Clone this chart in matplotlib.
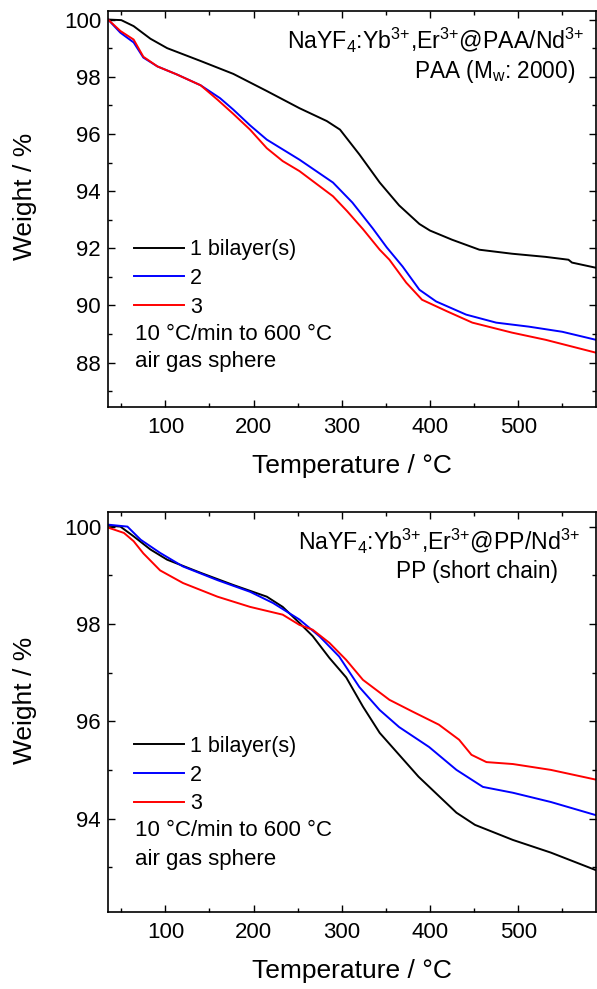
import matplotlib
matplotlib.use("Agg")
import matplotlib.pyplot as plt
from matplotlib.ticker import MultipleLocator

plt.rcParams["font.family"] = ["Liberation Sans", "DejaVu Sans"]
plt.rcParams["mathtext.fontset"] = "custom"
plt.rcParams["mathtext.rm"] = "Liberation Sans"
plt.rcParams["mathtext.it"] = "Liberation Sans"
plt.rcParams["mathtext.default"] = "regular"

# top panel: PAA
PAA_T1 = [35, 50, 64, 83, 102, 140, 177, 215, 252, 283, 298, 320, 343, 365, 388, 400, 425, 456, 493, 531, 557, 561, 588]
PAA_W1 = [100.0, 99.98, 99.77, 99.33, 99.0, 98.55, 98.1, 97.5, 96.9, 96.45, 96.15, 95.28, 94.3, 93.5, 92.85, 92.62, 92.3, 91.95, 91.81, 91.7, 91.6, 91.5, 91.32]
PAA_T2 = [35, 49, 64, 75, 91, 113, 140, 162, 177, 196, 215, 252, 290, 312, 335, 351, 369, 388, 407, 441, 475, 512, 550, 588]
PAA_W2 = [100.0, 99.54, 99.2, 98.67, 98.36, 98.08, 97.7, 97.25, 96.85, 96.3, 95.8, 95.1, 94.3, 93.6, 92.7, 92.03, 91.36, 90.55, 90.14, 89.68, 89.4, 89.26, 89.08, 88.8]
PAA_T3 = [35, 49, 64, 75, 91, 113, 140, 159, 177, 196, 215, 233, 252, 290, 306, 324, 343, 354, 373, 391, 419, 448, 493, 531, 588]
PAA_W3 = [100.0, 99.6, 99.3, 98.7, 98.36, 98.08, 97.7, 97.2, 96.7, 96.15, 95.5, 95.05, 94.7, 93.82, 93.3, 92.67, 91.95, 91.6, 90.8, 90.2, 89.8, 89.4, 89.05, 88.8, 88.35]

# bottom panel: PP
PP_T1 = [35, 49, 64, 83, 102, 140, 177, 215, 233, 252, 267, 286, 305, 324, 343, 387, 430, 451, 494, 537, 588]
PP_W1 = [100.02, 100.0, 99.8, 99.53, 99.32, 99.05, 98.8, 98.56, 98.35, 98.02, 97.75, 97.3, 96.9, 96.3, 95.76, 94.86, 94.12, 93.87, 93.56, 93.3, 92.94]
PP_T2 = [35, 57, 72, 94, 120, 159, 196, 222, 252, 275, 297, 320, 343, 365, 399, 430, 460, 494, 537, 588]
PP_W2 = [100.04, 100.0, 99.73, 99.46, 99.18, 98.9, 98.66, 98.43, 98.09, 97.74, 97.33, 96.7, 96.23, 95.88, 95.47, 95.0, 94.65, 94.53, 94.34, 94.07]
PP_T3 = [35, 53, 64, 75, 94, 120, 159, 196, 233, 252, 267, 286, 305, 324, 354, 380, 410, 433, 447, 464, 494, 537, 588]
PP_W3 = [99.98, 99.87, 99.7, 99.45, 99.1, 98.84, 98.56, 98.35, 98.19, 97.98, 97.88, 97.61, 97.26, 96.85, 96.44, 96.2, 95.93, 95.62, 95.31, 95.16, 95.12, 95.0, 94.8]

LABELS = ["1 bilayer(s)", "2", "3"]
COLORS = ["black", "#0000ff", "#ff0000"]

fig = plt.figure(figsize=(5.97, 9.89), dpi=100)
ax_top = fig.add_axes([0.181, 0.5885, 0.817, 0.4004])
ax_bot = fig.add_axes([0.181, 0.0779, 0.817, 0.4044])


def style_axis(ax, ylim, ymajor, ylab_y):
    ax.set_xlim(35, 588)
    ax.set_ylim(*ylim)
    ax.xaxis.set_major_locator(MultipleLocator(100))
    ax.xaxis.set_minor_locator(MultipleLocator(50))
    ax.yaxis.set_major_locator(MultipleLocator(ymajor))
    ax.yaxis.set_minor_locator(MultipleLocator(ymajor / 2))
    ax.tick_params(which="both", direction="in", top=True, right=True, width=1.0)
    ax.tick_params(which="major", length=5, labelsize=16)
    ax.tick_params(which="minor", length=3)
    ax.tick_params(axis="x", pad=7)
    ax.tick_params(axis="y", pad=5)
    for s in ax.spines.values():
        s.set_linewidth(1.2)
    ax.set_xlabel("Temperature / \u00b0C", fontsize=19, labelpad=12)
    ax.set_ylabel("Weight / %", fontsize=19)
    ax.yaxis.set_label_coords(-0.145, ylab_y)


panels = [
    (ax_top, [(PAA_T1, PAA_W1), (PAA_T2, PAA_W2), (PAA_T3, PAA_W3)], (86.45, 100.3), 0.533,
     r"NaYF$_4$:Yb$^{3{+}}$,Er$^{3{+}}$@PAA/Nd$^{3{+}}$", r"PAA (M$_w$: 2000)",
     (0.977, 0.927), (0.957, 0.846), 0.424),
    (ax_bot, [(PP_T1, PP_W1), (PP_T2, PP_W2), (PP_T3, PP_W3)], (92.08, 100.3), 0.53,
     r"NaYF$_4$:Yb$^{3{+}}$,Er$^{3{+}}$@PP/Nd$^{3{+}}$", "PP (short chain)",
     (0.967, 0.93), (0.922, 0.85), 0.44),
]

for ax, series, ylim, ylab_y, title, sub, title_xy, sub_xy, leg_y in panels:
    for (t, w), lab, col in zip(series, LABELS, COLORS):
        ax.plot(t, w, color=col, lw=1.4, label=lab)
    style_axis(ax, ylim, 2, ylab_y)
    ax.legend(loc="upper left", bbox_to_anchor=(0.053, leg_y), frameon=False, fontsize=15.5,
              handlelength=2.33, handletextpad=0.28, labelspacing=0.36, borderaxespad=0.0,
              borderpad=0.0)
    ax.text(*title_xy, title, transform=ax.transAxes, ha="right", va="center", fontsize=16.7)
    ax.text(*sub_xy, sub, transform=ax.transAxes, ha="right", va="center", fontsize=16.3)

ax_top.text(0.055, 0.182, "10 \u00b0C/min to 600 \u00b0C", transform=ax_top.transAxes,
            ha="left", va="center", fontsize=16)
ax_top.text(0.055, 0.114, "air gas sphere", transform=ax_top.transAxes,
            ha="left", va="center", fontsize=16)
ax_bot.text(0.055, 0.2025, "10 \u00b0C/min to 600 \u00b0C", transform=ax_bot.transAxes,
            ha="left", va="center", fontsize=16)
ax_bot.text(0.055, 0.13, "air gas sphere", transform=ax_bot.transAxes,
            ha="left", va="center", fontsize=16)

fig.savefig("out.png", dpi=100)
